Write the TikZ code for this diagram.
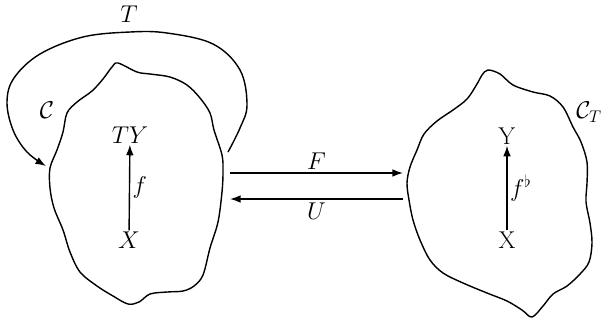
\documentclass[tikz,border=0pt]{standalone}
\usetikzlibrary{arrows.meta}
\begin{document}
\begin{tikzpicture}[x=0.03cm,y=-0.03cm,
  blob/.style={line width=1.2pt, line join=round},
  arr/.style={line width=1.2pt, -{Latex[length=9pt,width=6.5pt]}},
  lbl/.style={font=\fontsize{20.74}{24}\selectfont, inner sep=1pt}]
\useasboundingbox (0,0) rectangle (601,323);
% left blob
\draw[blob] plot[smooth cycle, tension=0.55] coordinates {
 (118,63) (137,72) (150,74) (170,77) (187,85) (200,98) (210,113) (214,130)
 (222,155) (223,172) (222,192) (218,222) (210,248) (203,275) (194,286)
 (183,291) (167,292) (150,294) (139,302) (128,304) (113,296) (97,286)
 (80,272) (70,252) (63,230) (54,208) (50,188) (50,168) (57,150) (63,132)
 (67,113) (77,102) (92,91) (103,79) (112,67)};
% right blob
\draw[blob] plot[smooth cycle, tension=0.55] coordinates {
 (488,70) (500,74) (513,85) (533,92) (550,96) (563,107) (573,127) (581,142)
 (587,162) (587,183) (586,202) (590,223) (592,243) (589,262) (580,274)
 (567,286) (553,294) (543,306) (532,317) (522,310) (507,301) (487,293)
 (463,283) (443,273) (430,260) (420,240) (413,220) (409,200) (407,183)
 (410,167) (417,150) (424,134) (437,121) (453,110) (467,99) (477,84)
 (482,75)};
% labels
\node[lbl] (C) at (47,110) {$\mathcal{C}$};
\node[lbl, anchor=west] (CT) at (575,112) {$\mathcal{C}_T$};
\node[lbl] (TY) at (130,135) {$TY$};
\node[lbl] (XL) at (129,240) {$X$};
\node[lbl] (Y) at (507,136) {$\mathrm{Y}$};
\node[lbl] (XR) at (507,240) {$\mathrm{X}$};
\draw[arr] (XL) -- (TY) node[lbl, midway, right=1pt] {$f$};
\draw[arr] (XR) -- (Y) node[lbl, midway, right=1pt] {$f^\flat$};
% F and U
\coordinate (Fs) at (230,173);
\coordinate (Fe) at (403,173);
\coordinate (Us) at (403,199);
\coordinate (Ue) at (230,199);
\draw[arr] (Fs) -- (Fe) node[lbl, midway, above=1pt] {$F$};
\draw[arr] (Us) -- (Ue) node[lbl, midway, below=2pt] {$U$};
% T loop
\coordinate (Ts) at (228,152);
\coordinate (Te) at (46,166);
\draw[arr] plot[smooth, tension=0.6] coordinates {
 (Ts) (240,128) (247,105) (240,70) (213,44) (167,33) (130,32) (83,37)
 (40,54) (14,78) (7,102) (13,130) (27,152) (Te)};
\node[lbl] (T) at (129,14) {$T$};
\end{tikzpicture}
\end{document}
